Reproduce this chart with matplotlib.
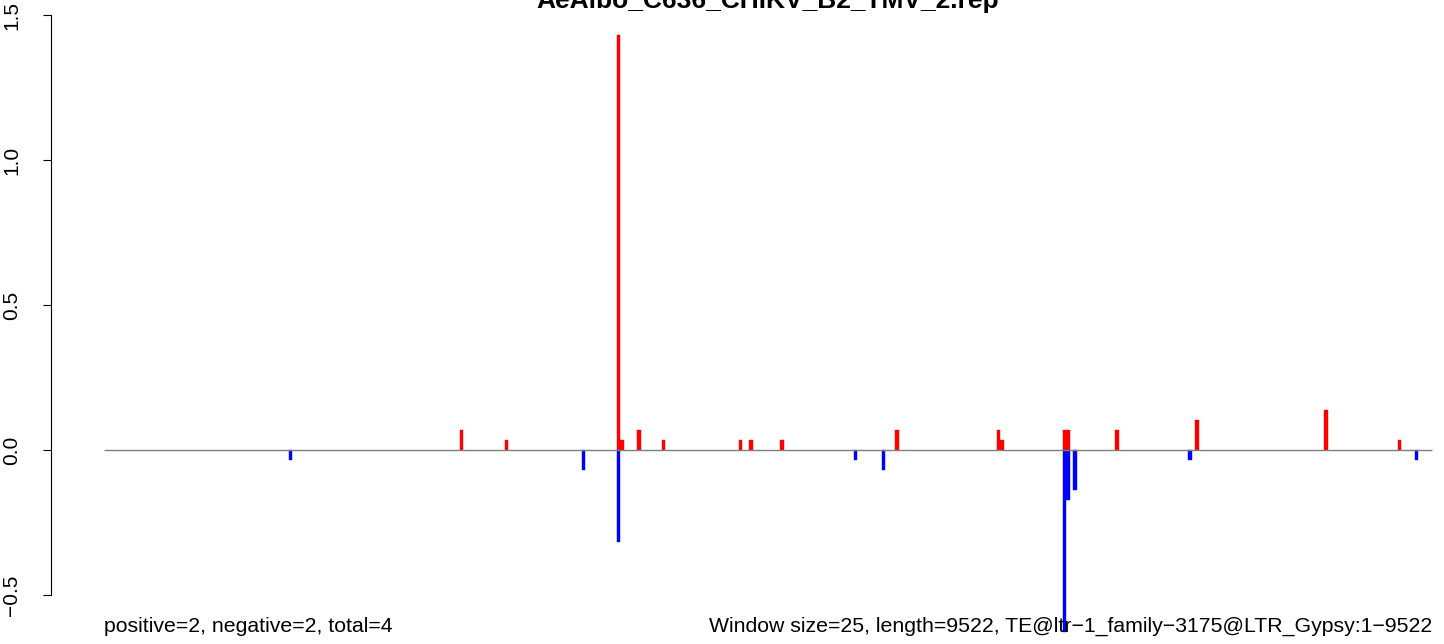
import numpy as np
import matplotlib
matplotlib.use("Agg")
import matplotlib.pyplot as plt

plt.rcParams['font.family'] = ['Liberation Sans', 'DejaVu Sans']

# data
title = "AeAlbo_C636_CHIKV_B2_TMV_2.rep"
window = 25
length = 9522

red_windows = [102, 115, 147, 148, 153, 160, 182, 185, 194, 227,
               256, 257, 275, 276, 290, 313, 350, 371]
red_values = [0.069, 0.0345, 1.431, 0.0345, 0.069, 0.0345, 0.0345, 0.0345, 0.0345, 0.069,
              0.069, 0.0345, 0.069, 0.069, 0.069, 0.1035, 0.138, 0.0345]

blue_windows = [53, 137, 147, 215, 223, 275, 276, 278, 311, 376]
blue_values = [-0.0345, -0.069, -0.317, -0.0345, -0.069, -0.628, -0.1725, -0.138, -0.0345, -0.0345]

yticks = [-0.5, 0.0, 0.5, 1.0, 1.5]
left_text = "positive=2, negative=2, total=4"
right_text = "Window size=25, length=9522, TE@ltr\u22121_family\u22123175@LTR_Gypsy:1\u22129522"

W, H = 1444, 644
fig = plt.figure(figsize=(W / 100, H / 100), dpi=100)

# layout in pixels: x=0 -> 104px, x=length -> 1432px, y=0 -> 450px, 290px per unit
x0_px, x1_px = 104, 1432
sx = (x1_px - x0_px) / length
y0_px, sy = 450, 290
ax_left = 51
ax = fig.add_axes([ax_left / W, 0, (W - ax_left) / W, 1])
ax.set_xlim((ax_left - x0_px) / sx, (W - x0_px) / sx)
ax.set_ylim(-(H - y0_px) / sy, y0_px / sy)

ax.bar(np.array(red_windows) * window, red_values, width=window, align='edge',
       color='#ff0000', edgecolor='#ff0000', linewidth=0.3)
ax.bar(np.array(blue_windows) * window, blue_values, width=window, align='edge',
       color='#0000ff', edgecolor='#0000ff', linewidth=0.3)
ax.hlines(0, 0, length, color='#7f7f7f', lw=1.0, zorder=3)

for s in ['top', 'right', 'bottom']:
    ax.spines[s].set_visible(False)
ax.spines['left'].set_bounds(yticks[0], yticks[-1])
ax.spines['left'].set_linewidth(0.8)
ax.set_xticks([])
ax.set_yticks(yticks)
ax.set_yticklabels([f"{v:.1f}".replace('-', '\u2212') for v in yticks])
ax.tick_params(axis='y', length=5.5, width=0.8, pad=16, labelsize=15, labelrotation=90)
for lab in ax.get_yticklabels():
    lab.set_va('center')

# title sits partly above the top edge, as in the original
fig.text(768 / W, 1 - 8 / H, title, ha='center', va='baseline',
         fontsize=19, fontweight='bold')
fig.text(x0_px / W, 1 - 632 / H, left_text, ha='left', va='baseline', fontsize=15.3)
fig.text(x1_px / W, 1 - 632 / H, right_text, ha='right', va='baseline', fontsize=15.3)

fig.savefig("out.png", dpi=100)
